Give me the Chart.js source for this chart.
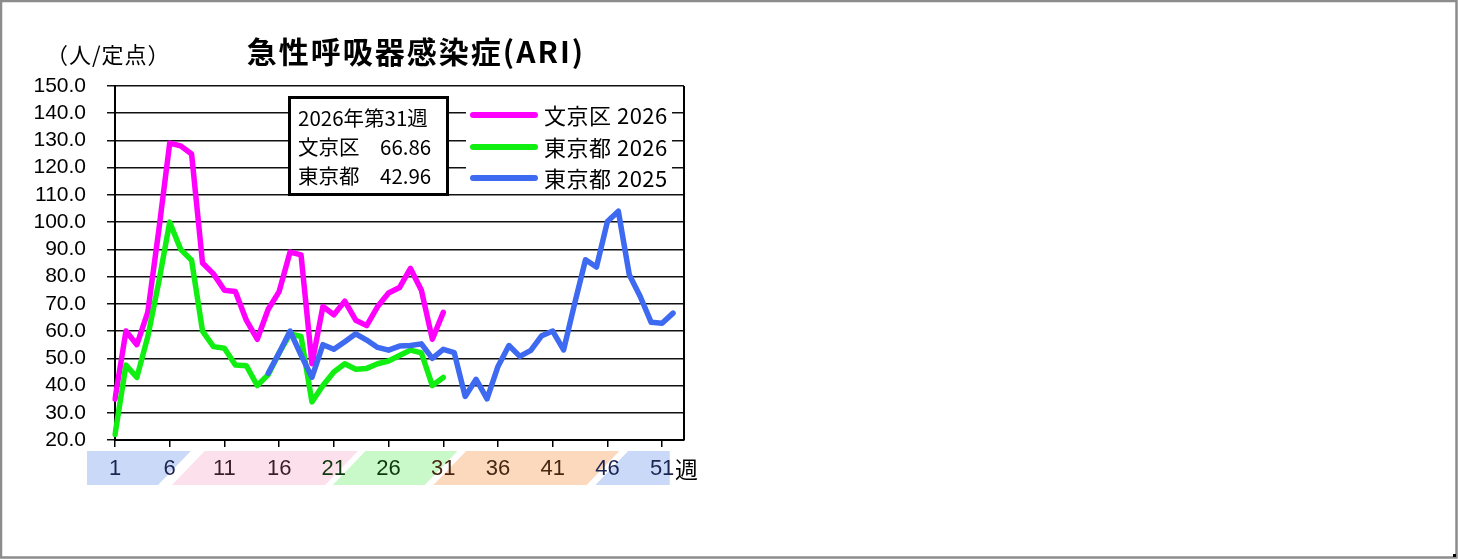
<!DOCTYPE html>
<html lang="ja">
<head>
<meta charset="utf-8">
<title>急性呼吸器感染症(ARI)</title>
<script src="https://cdn.jsdelivr.net/npm/chart.js@4.4.1/dist/chart.umd.min.js"></script>
<style>
  html, body { margin: 0; padding: 0; background: #fff; }
  canvas { display: block; }
</style>
</head>
<body>
<canvas id="ariChart" width="1458" height="559"></canvas>
<script>
// 週（横軸カテゴリ）
const weeks = [1, 2, 3, 4, 5, 6, 7, 8, 9, 10, 11, 12, 13, 14, 15, 16, 17, 18, 19, 20,
  21, 22, 23, 24, 25, 26, 27, 28, 29, 30, 31, 32, 33, 34, 35, 36, 37, 38, 39, 40,
  41, 42, 43, 44, 45, 46, 47, 48, 49, 50, 51, 52, 53];

// 目盛りを付ける週
const weekTicks = [1, 6, 11, 16, 21, 26, 31, 36, 41, 46, 51];

// 定点当たり報告数
const bunkyo2026 = [35, 60, 55, 67, 97, 129, 128, 125, 85, 81, 75, 74.5, 64, 57, 68, 74.5,
  89, 88, 48, 69, 66, 71, 64, 62, 69, 74, 76, 83, 75, 57, 66.86];

const tokyo2026 = [22, 47.5, 43, 58, 78, 100, 90, 86, 60, 54.3, 53.7, 47.5, 47.3, 40, 44, 52,
  59, 58, 34, 40, 45, 48, 46, 46.3, 48, 49, 51, 53, 52, 40, 42.96];

const tokyo2025 = [null, null, null, null, null, null, null, null, null, null, null, null, null, null,
  44.5, 52, 60, 51.2, 43, 55, 53.3, 56.1, 59, 56.7, 54, 53, 54.5, 54.7, 55.3, 50, 53.3,
  52.1, 36, 42.3, 35.1, 47, 54.7, 50.7, 52.9, 58.3, 60, 53.1, 70, 86.2, 83.5, 100.2, 104,
  80.7, 72.7, 63.2, 62.9, 66.6, null];

const seriesNames = ['文京区 2026', '東京都 2026', '東京都 2025'];
const seriesColors = ['#ff00ff', '#11ee11', '#3d6af0'];

// 最新週の情報
const latestLabel = '2026年第31週';
const latestRows = [['文京区', '66.86'], ['東京都', '42.96']];

// 季節の帯（週単位、下辺の左右）
const seasons = [
  { from: -1.56, to: 4.93, fill: '#cad9f8', text: '#1c2452', squareLeft: true },
  { from: 6.2, to: 20.2, fill: '#fce1ec', text: '#3a1f28' },
  { from: 20.9, to: 29.3, fill: '#c9f8c9', text: '#10380f' },
  { from: 30.1, to: 44.1, fill: '#fcd8bd', text: '#452712' },
  { from: 44.9, to: 51.7, fill: '#cad9f8', text: '#1c2452', squareRight: true }
];

const CJK = '"Noto Sans CJK JP", "Noto Sans", sans-serif';

function weekPx(scale, w) {
  const a = scale.getPixelForValue(0);
  const b = scale.getPixelForValue(1);
  return a + (w - 1) * (b - a);
}

function seasonOf(week) {
  for (let i = seasons.length - 1; i >= 0; i--) {
    if (week >= seasons[i].from) return seasons[i];
  }
  return seasons[0];
}

const decor = {
  id: 'decor',
  beforeDraw(chart) {
    const ctx = chart.ctx;
    const x = chart.scales.x;
    const area = chart.chartArea;
    ctx.save();
    ctx.fillStyle = '#fff';
    ctx.fillRect(0, 0, chart.width, chart.height);
    // 季節の帯
    const top = area.bottom + 11, bot = area.bottom + 45;
    const slant = 3;
    seasons.forEach(s => {
      const bl = weekPx(x, s.from), br = weekPx(x, s.to);
      const tl = s.squareLeft ? bl : weekPx(x, s.from + slant);
      const tr = s.squareRight ? br : weekPx(x, s.to + slant);
      ctx.beginPath();
      ctx.moveTo(bl, bot);
      ctx.lineTo(tl, top);
      ctx.lineTo(tr, top);
      ctx.lineTo(br, bot);
      ctx.closePath();
      ctx.fillStyle = s.fill;
      ctx.fill();
    });
    ctx.restore();
  },
  beforeDatasetsDraw(chart) {
    const ctx = chart.ctx;
    const area = chart.chartArea;
    ctx.save();
    // 右枠
    ctx.strokeStyle = '#000';
    ctx.lineWidth = 2;
    ctx.beginPath();
    ctx.moveTo(area.right, area.top);
    ctx.lineTo(area.right, area.bottom);
    ctx.stroke();

    // 凡例
    ctx.fillStyle = '#fff';
    ctx.fillRect(466, 88, 206, 105);
    ctx.lineCap = 'round';
    ctx.font = '22px ' + CJK;
    ctx.textBaseline = 'middle';
    ctx.textAlign = 'left';
    const rowsY = [115, 147, 178];
    seriesNames.forEach((name, i) => {
      ctx.strokeStyle = seriesColors[i];
      ctx.lineWidth = 6;
      ctx.beginPath();
      ctx.moveTo(473, rowsY[i]);
      ctx.lineTo(535, rowsY[i]);
      ctx.stroke();
      ctx.fillStyle = '#000';
      if ('letterSpacing' in ctx) ctx.letterSpacing = '0.5px';
      ctx.fillText(name, 544, rowsY[i] + 1);
      if ('letterSpacing' in ctx) ctx.letterSpacing = '0px';
    });

    // 最新週ボックス
    ctx.fillStyle = '#fff';
    ctx.fillRect(289, 97, 159, 98);
    ctx.strokeStyle = '#000';
    ctx.lineWidth = 3;
    ctx.strokeRect(289.5, 97.5, 158, 97);
    ctx.fillStyle = '#000';
    ctx.font = '20.5px ' + CJK;
    ctx.fillText(latestLabel, 298, 118);
    latestRows.forEach((r, i) => {
      ctx.fillText(r[0], 298, 147 + i * 29);
      ctx.fillText(r[1], 380, 147 + i * 29);
    });
    ctx.restore();
  },
  afterDraw(chart) {
    const ctx = chart.ctx;
    const x = chart.scales.x;
    ctx.save();
    ctx.fillStyle = '#000';
    ctx.textBaseline = 'middle';
    // タイトル
    ctx.font = 'bold 30px ' + CJK;
    ctx.textAlign = 'center';
    if ('letterSpacing' in ctx) ctx.letterSpacing = '2px';
    ctx.fillText('急性呼吸器感染症(ARI)', 416, 52);
    if ('letterSpacing' in ctx) ctx.letterSpacing = '0px';
    // 単位
    ctx.font = '22px ' + CJK;
    ctx.textAlign = 'left';
    if ('letterSpacing' in ctx) ctx.letterSpacing = '1px';
    ctx.fillText('（人/定点）', 46, 55);
    if ('letterSpacing' in ctx) ctx.letterSpacing = '0px';
    // 週
    ctx.font = '23px ' + CJK;
    ctx.fillText('週', weekPx(x, 51) + 13, 469);
    // 外枠
    ctx.strokeStyle = '#8c8c8c';
    ctx.lineWidth = 2.5;
    ctx.strokeRect(1, 1, chart.width - 2.5, chart.height - 2.5);
    ctx.fillStyle = '#000';
    ctx.fillRect(chart.width - 5, chart.height - 5, 3, 3);
    ctx.restore();
  }
};

Chart.defaults.font.family = '"Liberation Sans", Arial, sans-serif';
Chart.defaults.color = '#000';

new Chart(document.getElementById('ariChart').getContext('2d'), {
  type: 'line',
  data: {
    labels: weeks.map(String),
    datasets: [
      { label: seriesNames[0], data: bunkyo2026, borderColor: seriesColors[0], order: 3 },
      { label: seriesNames[1], data: tokyo2026, borderColor: seriesColors[1], order: 2 },
      { label: seriesNames[2], data: tokyo2025, borderColor: seriesColors[2], order: 1 }
    ]
  },
  options: {
    responsive: false,
    animation: false,
    devicePixelRatio: 1,
    layout: { padding: { top: 86, right: 774, left: 0, bottom: 0 } },
    elements: {
      line: { borderWidth: 5.5, tension: 0, borderJoinStyle: 'round', borderCapStyle: 'round', fill: false },
      point: { radius: 0, hoverRadius: 0 }
    },
    plugins: {
      legend: { display: false },
      title: { display: false },
      tooltip: { enabled: false }
    },
    scales: {
      x: {
        type: 'category',
        offset: false,
        afterFit(s) { s.height = 119; },
        border: { color: '#000', width: 2 },
        grid: {
          drawOnChartArea: false,
          tickLength: 7,
          lineWidth: 1.5,
          color: c => weekTicks.includes(weeks[c.index]) ? '#000' : 'rgba(0,0,0,0)'
        },
        ticks: {
          autoSkip: false,
          maxRotation: 0,
          padding: 9,
          font: { size: 22 },
          color: c => seasonOf(weeks[c.index]).text,
          callback: (v, i) => weekTicks.includes(weeks[i]) ? String(weeks[i]) : ''
        }
      },
      y: {
        min: 20,
        max: 150,
        afterFit(s) { s.width = 115; },
        border: { color: '#000', width: 2 },
        grid: { color: '#111', lineWidth: 1.5, tickLength: 8 },
        ticks: {
          stepSize: 10,
          autoSkip: false,
          padding: 21,
          font: { size: 21 },
          callback: v => v.toFixed(1)
        }
      }
    }
  },
  plugins: [decor]
});
</script>
</body>
</html>
